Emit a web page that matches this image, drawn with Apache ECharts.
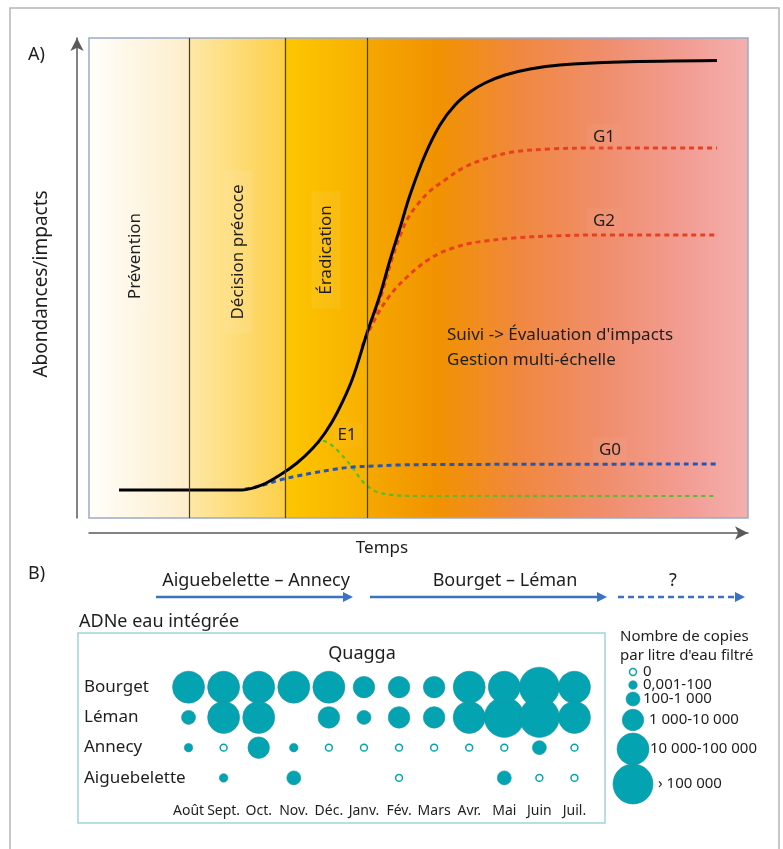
<!DOCTYPE html>
<html><head><meta charset="utf-8">
<script src="https://cdn.jsdelivr.net/npm/echarts@6/dist/echarts.min.js"></script>
<style>html,body{margin:0;padding:0;background:#fff}#c{width:783px;height:849px}</style>
</head><body><div id="c"></div>
<script>
// ---------- Panel A data (time 0-100, abundance/impact 0-100) ----------
const phaseBounds = [15.17, 29.74, 42.19];
const blackX = [4.55, 23.22, 26.25, 28.98, 31.56, 33.99, 35.81, 37.63, 39.91, 42.19, 44.16, 45.68, 47.19, 48.71, 50.99, 53.26, 55.54, 57.81, 60.09, 63.13, 66.92, 71.47, 80.58, 95.30];
const blackY = [5.83, 5.83, 6.88, 8.96, 11.46, 14.58, 17.71, 21.88, 28.75, 38.54, 46.46, 53.75, 60.42, 67.29, 75.63, 81.88, 86.04, 88.75, 90.63, 92.29, 93.54, 94.38, 95.0, 95.31];
const g1X = [41.43, 42.34, 43.40, 44.61, 45.98, 47.19, 48.41, 49.92, 51.75, 54.02, 56.75, 60.09, 64.34, 69.95, 77.54, 95.30];
const g1Y = [35.63, 38.96, 42.71, 47.50, 53.96, 58.75, 62.50, 65.42, 68.13, 70.42, 72.92, 74.79, 76.25, 76.88, 77.08, 77.08];
const g2X = [41.43, 42.34, 43.25, 44.16, 45.37, 46.74, 48.25, 49.77, 51.44, 53.26, 55.24, 57.36, 60.09, 64.34, 69.95, 77.54, 95.30];
const g2Y = [35.63, 38.54, 41.04, 43.33, 45.83, 48.13, 50.21, 52.08, 53.75, 55.21, 56.25, 57.08, 57.71, 58.33, 58.75, 58.96, 58.96];
const g0X = [23.67, 25.95, 28.98, 31.56, 33.99, 37.03, 40.06, 43.40, 46.74, 54.78, 95.30];
const g0Y = [6.04, 6.67, 7.92, 8.75, 9.38, 10.10, 10.63, 10.83, 11.04, 11.15, 11.25];
const e1X = [33.54, 34.60, 35.51, 36.57, 38.09, 39.91, 41.58, 42.64, 43.70, 46.13, 50.23, 95.30];
const e1Y = [14.17, 15.42, 16.04, 15.42, 13.54, 10.63, 7.5, 6.25, 5.42, 4.79, 4.58, 4.58];
const phaseLabels = ['Prévention', 'Décision précoce', 'Éradication'];
const curveLabels = ['G1', 'G2', 'G0', 'E1'];

// ---------- Panel B data ----------
const months = ['Août', 'Sept.', 'Oct.', 'Nov.', 'Déc.', 'Janv.', 'Fév.', 'Mars', 'Avr.', 'Mai', 'Juin', 'Juil.'];
const lakes = ['Bourget', 'Léman', 'Annecy', 'Aiguebelette'];
// class codes: null = no sample, 1 = 0, 2 = 0,001-100, 3 = 100-1 000, 4 = 1 000-10 000, 5 = 10 000-100 000, 6 = > 100 000
const bourget = [5, 5, 5, 5, 5, 4, 4, 4, 5, 5, 6, 5];
const leman = [3, 5, 5, null, 4, 3, 4, 4, 5, 6, 6, 5];
const annecy = [2, 1, 4, 2, 1, 1, 1, 1, 1, 1, 3, 1];
const aiguebelette = [null, 2, null, 3, null, null, 1, null, null, 3, 1, 1];
const legendClasses = [1, 2, 3, 4, 5, 6];
const legendLabels = ['0', '0,001-100', '100-1 000', '1 000-10 000', '10 000-100 000', '› 100 000'];
const phaseArrows = ['Aiguebelette – Annecy', 'Bourget – Léman', '?'];

// ---------- build ----------
const FONT = '"Noto Sans", "Open Sans", sans-serif';
const TXT = '#1e1e1e';
const TEAL = '#03a3b1';
const diam = {1: 8.5, 2: 8.5, 3: 14, 4: 21.5, 5: 32, 6: 40};
const zip = (a, b) => a.map((v, i) => [v, b[i]]);

const lakeRows = [bourget, leman, annecy, aiguebelette];
const filled = [], empty = [];
lakeRows.forEach((row, r) => row.forEach((c, i) => {
  if (c == null) return;
  (c === 1 ? empty : filled).push([i, r, c]);
}));
filled.sort((a, b) => b[2] - a[2]);

const chart = echarts.init(document.getElementById('c'), null, {renderer: 'canvas'});

const bg = new echarts.graphic.LinearGradient(0, 0, 1, 0, [
  {offset: 0, color: '#fffefb'},
  {offset: 0.151, color: '#fdeecb'},
  {offset: 0.153, color: '#fde8a6'},
  {offset: 0.296, color: '#fdd04a'},
  {offset: 0.298, color: '#fdc600'},
  {offset: 0.421, color: '#f7b000'},
  {offset: 0.423, color: '#f5a800'},
  {offset: 0.53, color: '#f19200'},
  {offset: 0.65, color: '#f0883e'},
  {offset: 0.78, color: '#f08e6c'},
  {offset: 0.9, color: '#f29c92'},
  {offset: 1, color: '#f4b0ae'}
]);

const g = [];
// outer frame
g.push({type: 'rect', shape: {x: 10, y: 8, width: 769, height: 870}, style: {fill: 'none', stroke: '#b5b5b5', lineWidth: 1.5}, z: 0});
function txt(x, y, s, size, opts) {
  opts = opts || {};
  return {type: 'text', x: x, y: y, rotation: opts.rot || 0, z: 20,
    style: {text: s, font: size + 'px ' + FONT, fill: TXT, align: opts.align || 'center', verticalAlign: 'middle',
      backgroundColor: opts.bg, padding: opts.pad}};
}
g.push(txt(28, 55, 'A)', 18, {align: 'left'}));
g.push(txt(28, 574, 'B)', 18, {align: 'left'}));
g.push(txt(42, 284, 'Abondances/impacts', 19, {rot: Math.PI / 2}));
g.push(txt(382, 548, 'Temps', 17));
const phasePos = [[135, 256], [238, 252], [326, 250]];
phaseLabels.forEach((s, i) => g.push(txt(phasePos[i][0], phasePos[i][1], s, 17,
  {rot: Math.PI / 2, bg: 'rgba(255,255,255,0.07)', pad: [6, 14]})));
const curvePos = [[604, 137], [604, 221], [610, 450], [347, 435]];
curveLabels.forEach((s, i) => g.push(txt(curvePos[i][0], curvePos[i][1], s, 17, {bg: 'rgba(255,255,255,0.04)', pad: [4, 6]})));
g.push(txt(447, 335, "Suivi -> Évaluation d'impacts", 17, {align: 'left'}));
g.push(txt(447, 360, 'Gestion multi-échelle', 17, {align: 'left'}));

// panel B header arrows
const BLUE = '#3b72c2';
const arrowSpans = [[156, 353], [370, 607], [618, 745]];
const arrowTextX = [256, 505, 673];
phaseArrows.forEach((s, i) => {
  g.push(txt(arrowTextX[i], 581, s, 18));
  const [x1, x2] = arrowSpans[i];
  g.push({type: 'line', shape: {x1: x1, y1: 597, x2: x2 - 8, y2: 597}, z: 10,
    style: {stroke: BLUE, lineWidth: 2.5, lineDash: i === 2 ? [6, 4] : null}});
  g.push({type: 'polygon', shape: {points: [[x2 - 10, 592], [x2, 597], [x2 - 10, 602]]}, style: {fill: BLUE}, z: 10});
});
g.push(txt(79, 622, 'ADNe eau intégrée', 18, {align: 'left'}));
g.push({type: 'rect', shape: {x: 78, y: 633, width: 527, height: 190}, style: {fill: 'none', stroke: '#9ed3db', lineWidth: 1.5}, z: 1});
g.push(txt(362, 654, 'Quagga', 18));
// legend
g.push(txt(620, 637, 'Nombre de copies', 15, {align: 'left'}));
g.push(txt(620, 656, "par litre d'eau filtré", 15, {align: 'left'}));
const legY = [672, 685, 699, 720, 749, 784];
const legTX = [643, 643, 643, 649, 650, 658];
legendClasses.forEach((c, i) => {
  const d = diam[c];
  g.push({type: 'circle', shape: {cx: 633, cy: legY[i], r: c === 1 ? d / 2 - 0.8 : d / 2}, z: 10,
    style: c === 1 ? {fill: '#fff', stroke: TEAL, lineWidth: 1.5} : {fill: TEAL, stroke: '#1a96a2', lineWidth: 0.6}});
  g.push(txt(legTX[i], legY[i], legendLabels[i], 15, {align: 'left'}));
});

const option = {
  animation: false,
  backgroundColor: '#fff',
  textStyle: {fontFamily: FONT},
  grid: [
    {left: 89, top: 38, width: 659, height: 480, show: true, backgroundColor: bg, borderColor: '#9aaac6', borderWidth: 1.5, z: 0},
    {left: 171, top: 672, width: 421, height: 121}
  ],
  xAxis: [
    {gridIndex: 0, type: 'value', min: 0, max: 100, offset: 15,
      axisLine: {show: true, onZero: false, symbol: ['none', 'arrow'], symbolSize: [10, 13], lineStyle: {color: '#5a5a5a', width: 1.5}},
      axisTick: {show: false}, axisLabel: {show: false}, splitLine: {show: false}},
    {gridIndex: 1, type: 'category', data: months, axisLine: {show: false}, axisTick: {show: false},
      axisLabel: {fontSize: 14, color: TXT, margin: 11, interval: 0, fontFamily: FONT}, splitLine: {show: false}}
  ],
  yAxis: [
    {gridIndex: 0, type: 'value', min: 0, max: 100, offset: 12,
      axisLine: {show: true, onZero: false, symbol: ['none', 'arrow'], symbolSize: [10, 13], lineStyle: {color: '#5a5a5a', width: 1.5}},
      axisTick: {show: false}, axisLabel: {show: false}, splitLine: {show: false}},
    {gridIndex: 1, type: 'category', data: lakes, inverse: true, axisLine: {show: false}, axisTick: {show: false},
      axisLabel: {fontSize: 17, color: TXT, align: 'left', margin: 87, interval: 0, fontFamily: FONT}, splitLine: {show: false}}
  ],
  series: [
    {type: 'line', xAxisIndex: 0, yAxisIndex: 0, data: [], z: 1, silent: true,
      markLine: {silent: true, symbol: 'none', label: {show: false}, animation: false,
        lineStyle: {color: '#4a3c22', width: 1.2, type: 'solid'}, data: phaseBounds.map(x => ({xAxis: x}))}},
    {type: 'line', name: 'E1', xAxisIndex: 0, yAxisIndex: 0, data: zip(e1X, e1Y), smooth: 0.35, showSymbol: false, z: 3,
      lineStyle: {color: '#4fbf2c', width: 2.2, type: [4, 4]}},
    {type: 'line', name: 'G0', xAxisIndex: 0, yAxisIndex: 0, data: zip(g0X, g0Y), smooth: 0.35, showSymbol: false, z: 3,
      lineStyle: {color: '#2457b4', width: 3, type: [5, 4]}},
    {type: 'line', name: 'G2', xAxisIndex: 0, yAxisIndex: 0, data: zip(g2X, g2Y), smooth: 0.35, showSymbol: false, z: 3,
      lineStyle: {color: '#e8401e', width: 3, type: [5, 4]}},
    {type: 'line', name: 'G1', xAxisIndex: 0, yAxisIndex: 0, data: zip(g1X, g1Y), smooth: 0.35, showSymbol: false, z: 3,
      lineStyle: {color: '#e8401e', width: 3, type: [5, 4]}},
    {type: 'line', name: 'Invasion', xAxisIndex: 0, yAxisIndex: 0, data: zip(blackX, blackY), smooth: 0.35, showSymbol: false, z: 4,
      lineStyle: {color: '#000', width: 3}},
    {type: 'scatter', xAxisIndex: 1, yAxisIndex: 1, data: filled, symbolSize: v => diam[v[2]], z: 5,
      itemStyle: {color: TEAL, borderColor: '#1a96a2', borderWidth: 0.6, opacity: 1}},
    {type: 'scatter', xAxisIndex: 1, yAxisIndex: 1, data: empty, symbolSize: v => diam[v[2]] - 1.6, z: 5,
      itemStyle: {color: '#fff', borderColor: TEAL, borderWidth: 1.5, opacity: 1}}
  ],
  graphic: g
};
chart.setOption(option);
</script></body></html>
